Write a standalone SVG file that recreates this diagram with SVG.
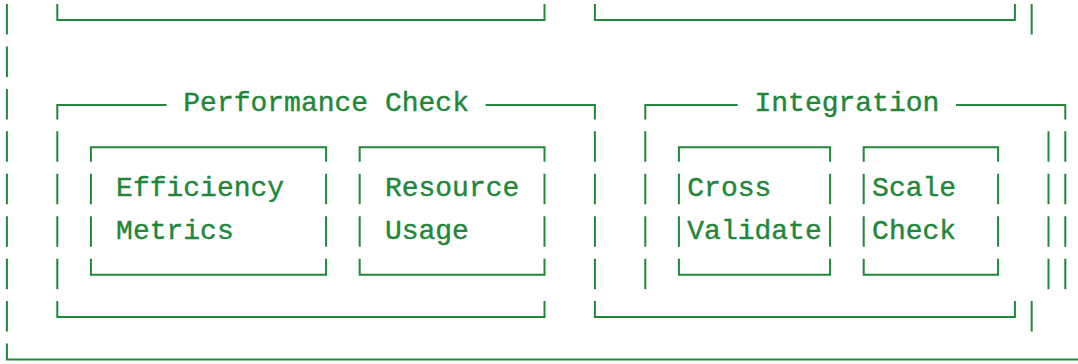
<svg xmlns="http://www.w3.org/2000/svg" width="1078" height="364" viewBox="0 0 1078 364">
<style>
.ln{fill:none;stroke:#22863a;stroke-width:2;stroke-linecap:butt;stroke-linejoin:miter}
.tx{font-family:"Liberation Mono","DejaVu Sans Mono",monospace;font-size:28px;fill:#22863a;stroke:#22863a;stroke-width:0.4}
</style>
<rect width="1078" height="364" fill="#ffffff"/>
<g id="outer-frame">
<path class="ln" d="M6.9,4V34.5 M6.9,46.44V76.94 M6.9,88.88V119.38 M6.9,131.32V161.82 M6.9,173.76V204.26 M6.9,216.2V246.7 M6.9,258.64V289.14 M6.9,301.08V331.58 M6.9,343.52V359.52H1078 M1031.7,4V34.5 M1031.7,301.08V331.58 M1048.5,131.32V161.82 M1048.5,173.76V204.26 M1048.5,216.2V246.7 M1048.5,258.64V289.14"/>
</g>
<g id="upper-left-box">
<path class="ln" d="M57.3,4V20H544.5V4"/>
</g>
<g id="upper-right-box">
<path class="ln" d="M594.9,4V20H1014.9V4"/>
</g>
<g id="performance-check">
<path class="ln" d="M57.3,119.38V104.88H166.5 M485.7,104.88H594.9V119.38 M57.3,131.32V161.82 M57.3,173.76V204.26 M57.3,216.2V246.7 M57.3,258.64V289.14 M594.9,131.32V161.82 M594.9,173.76V204.26 M594.9,216.2V246.7 M594.9,258.64V289.14 M57.3,301.08V317.08H544.5V301.08"/>
<text class="tx" x="183.3" y="111.38">Performance Check</text>
</g>
<g id="efficiency-metrics">
<path class="ln" d="M90.9,161.82V147.32H326.1V161.82 M90.9,173.76V204.26 M90.9,216.2V246.7 M326.1,173.76V204.26 M326.1,216.2V246.7 M90.9,258.64V274.64H326.1V258.64"/>
<text class="tx" x="116.1" y="196.26">Efficiency</text>
<text class="tx" x="116.1" y="238.7">Metrics</text>
</g>
<g id="resource-usage">
<path class="ln" d="M359.7,161.82V147.32H544.5V161.82 M359.7,173.76V204.26 M359.7,216.2V246.7 M544.5,173.76V204.26 M544.5,216.2V246.7 M359.7,258.64V274.64H544.5V258.64"/>
<text class="tx" x="384.9" y="196.26">Resource</text>
<text class="tx" x="384.9" y="238.7">Usage</text>
</g>
<g id="integration">
<path class="ln" d="M645.3,119.38V104.88H737.7 M956.1,104.88H1065.3V119.38 M645.3,131.32V161.82 M645.3,173.76V204.26 M645.3,216.2V246.7 M645.3,258.64V289.14 M1065.3,131.32V161.82 M1065.3,173.76V204.26 M1065.3,216.2V246.7 M1065.3,258.64V289.14 M594.9,301.08V317.08H1014.9V301.08"/>
<text class="tx" x="754.5" y="111.38">Integration</text>
</g>
<g id="cross-validate">
<path class="ln" d="M678.9,161.82V147.32H830.1V161.82 M678.9,173.76V204.26 M678.9,216.2V246.7 M830.1,173.76V204.26 M830.1,216.2V246.7 M678.9,258.64V274.64H830.1V258.64"/>
<text class="tx" x="687.3" y="196.26">Cross</text>
<text class="tx" x="687.3" y="238.7">Validate</text>
</g>
<g id="scale-check">
<path class="ln" d="M863.7,161.82V147.32H998.1V161.82 M863.7,173.76V204.26 M863.7,216.2V246.7 M998.1,173.76V204.26 M998.1,216.2V246.7 M863.7,258.64V274.64H998.1V258.64"/>
<text class="tx" x="872.1" y="196.26">Scale</text>
<text class="tx" x="872.1" y="238.7">Check</text>
</g>
<g id="connectors"></g>
</svg>
